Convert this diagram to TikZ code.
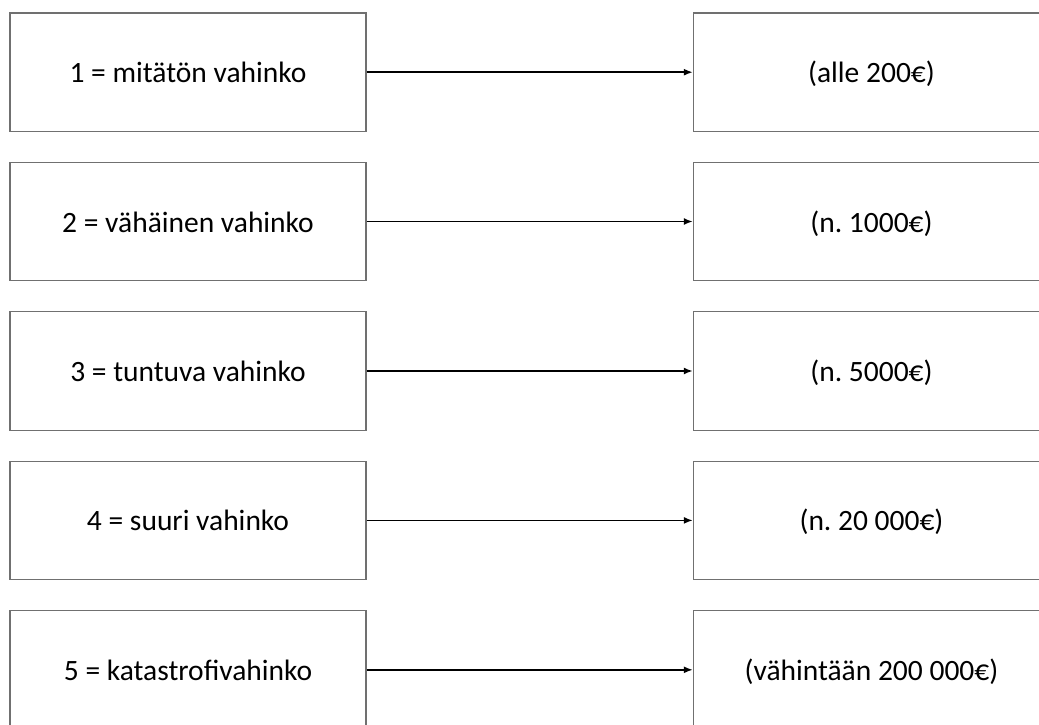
\documentclass[tikz,border=0pt]{standalone}
\usepackage{fontspec}
\setmainfont{Carlito}
\usetikzlibrary{arrows.meta}
\definecolor{boxgray}{RGB}{112,112,112}
\frenchspacing
\tikzset{
  vbox/.style={draw=boxgray, line width=1.3pt, minimum width=356pt, minimum height=118.5pt, inner sep=0pt, text height=25pt, text depth=4pt, font=\fontsize{29.5pt}{35pt}\selectfont\frenchspacing, text=black},
  conn/.style={draw=black, line width=1.7pt, -{Latex[length=9pt,width=7pt]}},
}
\begin{document}
\begin{tikzpicture}[x=1pt,y=1pt]
\useasboundingbox (0,0) rectangle (1039,-724);
\begin{scope}
\clip (0,0) rectangle (1039,-724);
\node[vbox] (l1) at (188,-72.2) {1 = mitätön vahinko};
\node[vbox] (l2) at (188,-221.5) {2 = vähäinen vahinko};
\node[vbox] (l3) at (188,-371.0) {3 = tuntuva vahinko};
\node[vbox] (l4) at (188,-520.4) {4 = suuri vahinko};
\node[vbox] (l5) at (188,-669.8) {5 = katastrofivahinko};
\node[vbox] (r1) at (871.5,-72.2) {(alle 200€)};
\node[vbox] (r2) at (871.5,-221.5) {(n. 1000€)};
\node[vbox] (r3) at (871.5,-371.0) {(n. 5000€)};
\node[vbox] (r4) at (871.5,-520.4) {(n. 20 000€)};
\node[vbox] (r5) at (871.5,-669.8) {(vähintään 200 000€)};
\draw[conn] (l1) -- (r1);
\draw[conn] (l2) -- (r2);
\draw[conn, line width=2.3pt] (l3) -- (r3);
\draw[conn] (l4) -- (r4);
\draw[conn] (l5) -- (r5);
\end{scope}
\end{tikzpicture}
\end{document}
